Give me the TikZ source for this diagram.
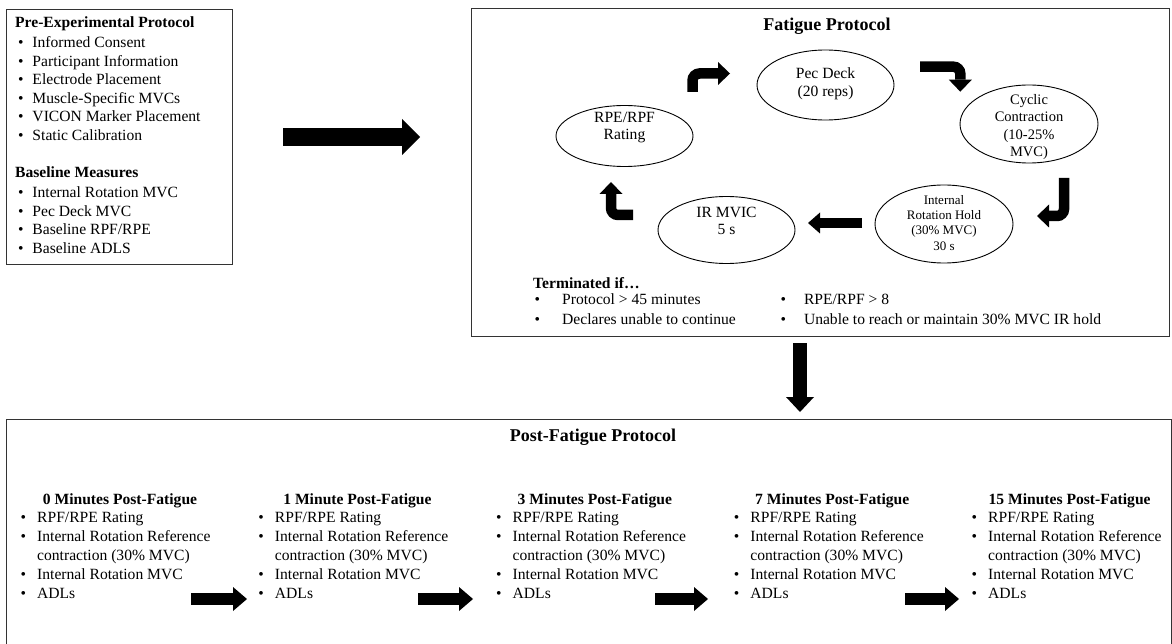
\documentclass[tikz,border=0pt]{standalone}
\usepackage{fontspec}
\setmainfont{Liberation Serif}
\usetikzlibrary{shapes.geometric,arrows.meta}
\newcommand\bodyf{\fontsize{15.6}{18}\selectfont}
\newcommand\titlef{\fontsize{18}{21}\selectfont\bfseries}
\newcommand\bulbox[1]{\makebox[#1][l]{•}}
\begin{document}
\begin{tikzpicture}[x=1pt,y=-1pt,
  frame/.style={draw=black!80, line width=0.9pt, inner sep=0pt, anchor=north west},
  ell/.style={ellipse, draw=black, line width=0.9pt, inner sep=0pt, minimum width=137pt},
  txt/.style={inner sep=0pt, anchor=base west, font=\bodyf},
  ctxt/.style={inner sep=0pt, anchor=base, font=\bodyf},
  ttl/.style={inner sep=0pt, anchor=base, font=\titlef},
  bigarrow/.style={line width=18pt, -{Triangle[width=36pt,length=18pt,line width=0pt]}},
  midarrow/.style={line width=14pt, -{Triangle[width=28pt,length=15pt,line width=0pt]}},
  smallarrow/.style={line width=12pt, -{Triangle[width=24pt,length=14pt,line width=0pt]}},
  bentarrow/.style={line width=10.5pt, rounded corners=7pt, -{Triangle[width=23pt,length=12pt,line width=0pt]}},
  cycarrow/.style={line width=10pt, -{Triangle[width=21pt,length=12pt,line width=0pt]}},
]
\useasboundingbox (0,0) rectangle (1172,644);
\clip (0,0) rectangle (1172,644);

% ---------- boxes ----------
\node[frame, minimum width=226pt, minimum height=255pt] (pre) at (6,9) {};
\node[frame, minimum width=698pt, minimum height=328pt] (fat) at (471,8) {};
\node[frame, minimum width=1165pt, minimum height=240pt] (post) at (6,419) {};

% ---------- pre-experimental box ----------
\node[txt, font=\bodyf\bfseries] (preT) at (15,28) {Pre-Experimental Protocol};
\foreach \t [count=\k from 0] in {Informed Consent, Participant Information, Electrode Placement, Muscle-Specific MVCs, VICON Marker Placement, Static Calibration}
  \node[txt] (pre\k) at (18,{48+18.5*\k}) {\bulbox{14.3pt}\t};
\node[txt, font=\bodyf\bfseries] (baseT) at (15,178) {Baseline Measures};
\foreach \t [count=\k from 0] in {Internal Rotation MVC, Pec Deck MVC, Baseline RPF/RPE, Baseline ADLS}
  \node[txt] (base\k) at (18,{198+18.5*\k}) {\bulbox{14.3pt}\t};

% ---------- arrows between boxes ----------
\coordinate (a1s) at (283,137);
\coordinate (a1e) at (420,137);
\draw[bigarrow] (a1s) -- (a1e);
\coordinate (a2s) at (800,343);
\coordinate (a2e) at (800,412);
\draw[midarrow] (a2s) -- (a2e);

% ---------- fatigue protocol ----------
\node[ttl] (fatT) at (827,31) {Fatigue Protocol};
\node[ell, minimum height=70pt] (pec) at (825.5,85) {};
\node[ell, minimum height=61pt] (rpe) at (624.5,136) {};
\node[ell, minimum width=138pt, minimum height=78pt] (cyc) at (1029,124) {};
\node[ell, minimum height=67pt] (irm) at (726.5,230) {};
\node[ell, minimum width=138pt, minimum height=78pt] (irh) at (944,224) {};

\node[ctxt] (pec1) at (825.5,79) {Pec Deck};
\node[ctxt] (pec2) at (825.5,97) {(20 reps)};
\node[ctxt] (rpe1) at (624.5,123) {RPE/RPF};
\node[ctxt] (rpe2) at (624.5,140) {Rating};
\begin{scope}[every node/.append style={font=\fontsize{14.5}{17}\selectfont}]
\node[ctxt, font=\fontsize{14.5}{17}\selectfont] (cyc1) at (1029,105) {Cyclic};
\node[ctxt, font=\fontsize{14.5}{17}\selectfont] (cyc2) at (1029,122) {Contraction};
\node[ctxt, font=\fontsize{14.5}{17}\selectfont] (cyc3) at (1029,140) {(10-25\%};
\node[ctxt, font=\fontsize{14.5}{17}\selectfont] (cyc4) at (1029,157) {MVC)};
\end{scope}
\node[ctxt] (irm1) at (726.5,218) {IR MVIC};
\node[ctxt] (irm2) at (726.5,235) {5 s};
\node[ctxt, font=\fontsize{13}{15}\selectfont] (irh1) at (944,204.5) {Internal};
\node[ctxt, font=\fontsize{13}{15}\selectfont] (irh2) at (944,219.5) {Rotation Hold};
\node[ctxt, font=\fontsize{13}{15}\selectfont] (irh3) at (944,235) {(30\% MVC)};
\node[ctxt, font=\fontsize{13}{15}\selectfont] (irh4) at (944,251) {30 s};

% cycle arrows
\coordinate (tl1) at (692.5,92);   \coordinate (tl2) at (692.5,73.5); \coordinate (tl3) at (730,73.5);
\draw[bentarrow] (tl1) -- (tl2) -- (tl3);
\coordinate (tr1) at (920,66.7);   \coordinate (tr2) at (960.3,66.7); \coordinate (tr3) at (960.3,91.7);
\draw[bentarrow] (tr1) -- (tr2) -- (tr3);
\coordinate (r1) at (1064,178);    \coordinate (r2) at (1064,216);    \coordinate (r3) at (1037,216);
\draw[bentarrow] (r1) -- (r2) -- (r3);
\coordinate (bl1) at (633,215);    \coordinate (bl2) at (611,215);    \coordinate (bl3) at (611,182);
\draw[bentarrow] (bl1) -- (bl2) -- (bl3);
\coordinate (ml1) at (862,223);    \coordinate (ml2) at (808,223);
\draw[cycarrow] (ml1) -- (ml2);

% terminated
\node[txt, font=\bodyf\bfseries] (term) at (533,288) {Terminated if…};
\node[txt] (term1) at (534.3,305) {\bulbox{27.7pt}Protocol > 45 minutes};
\node[txt] (term2) at (534.3,324) {\bulbox{27.7pt}Declares unable to continue};
\node[txt] (term3) at (780.3,305) {\bulbox{23.5pt}RPE/RPF > 8};
\node[txt] (term4) at (780.3,324) {\bulbox{23.5pt}Unable to reach or maintain 30\% MVC IR hold};

% ---------- post-fatigue protocol ----------
\node[ttl] (postT) at (593,441) {Post-Fatigue Protocol};
\foreach \lab [count=\c from 0] in {0 Minutes Post-Fatigue, 1 Minute Post-Fatigue, 3 Minutes Post-Fatigue, 7 Minutes Post-Fatigue, 15 Minutes Post-Fatigue}{
  \node[ctxt, font=\bodyf\bfseries] (col\c) at ({120+237.4*\c},504) {\lab};
  \node[txt] (col\c-1) at ({20.5+237.75*\c},522) {\bulbox{16.5pt}RPF/RPE Rating};
  \node[txt] (col\c-2) at ({20.5+237.75*\c},541) {\bulbox{16.5pt}Internal Rotation Reference};
  \node[txt] (col\c-3) at ({37+237.75*\c},560) {contraction (30\% MVC)};
  \node[txt] (col\c-4) at ({20.5+237.75*\c},579) {\bulbox{16.5pt}Internal Rotation MVC};
  \node[txt] (col\c-5) at ({20.5+237.75*\c},598) {\bulbox{16.5pt}ADLs};
}
\coordinate (b1s) at (191,599); \coordinate (b1e) at (247,599);
\coordinate (b2s) at (418,599); \coordinate (b2e) at (473,599);
\coordinate (b3s) at (655,599); \coordinate (b3e) at (708,599);
\coordinate (b4s) at (905,599); \coordinate (b4e) at (959,599);
\draw[smallarrow] (b1s) -- (b1e);
\draw[smallarrow] (b2s) -- (b2e);
\draw[smallarrow] (b3s) -- (b3e);
\draw[smallarrow] (b4s) -- (b4e);
\end{tikzpicture}
\end{document}
